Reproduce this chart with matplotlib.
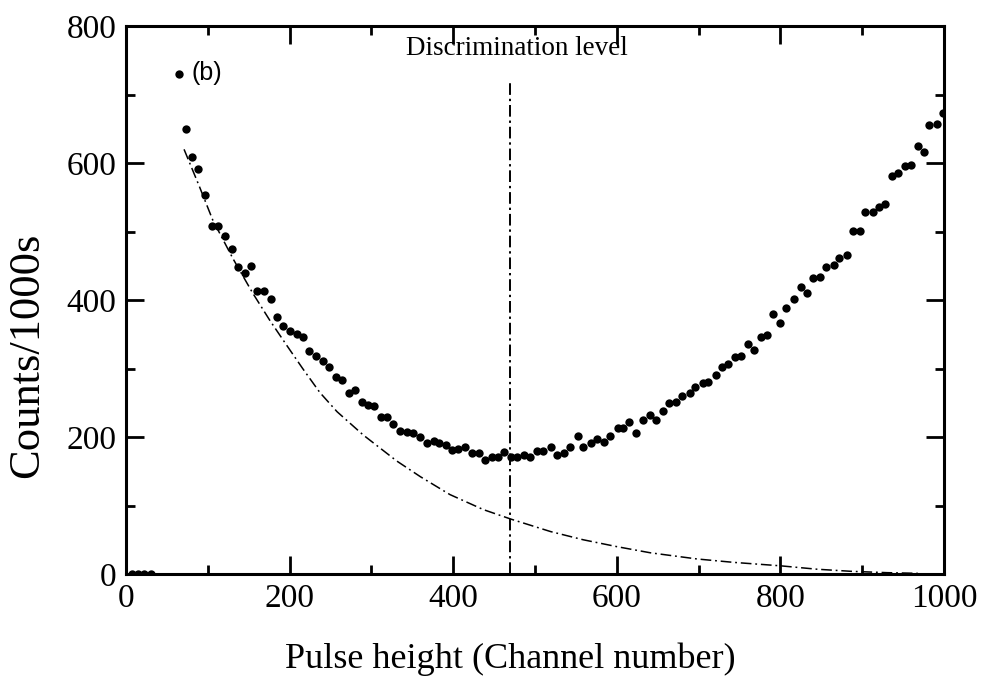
import matplotlib
matplotlib.use("Agg")
import matplotlib.pyplot as plt
from matplotlib.ticker import MultipleLocator

# ---------------------------------------------------------------------------
# Data
# ---------------------------------------------------------------------------

channel = [
    7, 15, 22, 30,
    65, 73, 81, 88, 97, 105, 113, 121, 130, 137, 146, 153, 160, 169, 177, 185,
    192, 201, 209, 217, 224, 232, 241, 248, 257, 264, 273, 280, 289, 296, 303,
    312, 319, 327, 335, 344, 351, 360, 368, 376, 383, 391, 399, 406, 415, 423,
    431, 439, 448, 455, 462, 471, 478, 486, 494, 503, 510, 520, 527, 535, 543,
    552, 559, 568, 576, 584, 592, 601, 608, 615, 624, 632, 640, 648, 657, 664,
    672, 680, 689, 696, 705, 712, 721, 729, 736, 744, 752, 760, 768, 776, 784,
    791, 800, 807, 816, 825, 833, 840, 848, 856, 865, 872, 881, 889, 897, 904,
    913, 920, 928, 937, 944, 952, 960, 968, 975, 982, 991, 999,
]
counts = [
    0, 0, 0, 0,
    730, 650, 609, 591, 553, 508, 508, 493, 474, 448, 439, 450, 413, 413, 401, 375,
    362, 355, 350, 346, 326, 318, 311, 302, 288, 283, 264, 269, 251, 247, 245,
    229, 229, 219, 209, 207, 206, 200, 191, 194, 191, 188, 181, 182, 185, 177,
    177, 166, 171, 171, 178, 171, 171, 174, 171, 180, 180, 185, 174, 177, 185,
    201, 185, 191, 197, 193, 201, 213, 213, 222, 206, 225, 232, 225, 238, 250,
    251, 260, 264, 273, 279, 280, 291, 302, 307, 317, 318, 336, 327, 346, 349,
    380, 366, 388, 401, 419, 410, 432, 434, 448, 451, 461, 466, 501, 501, 528,
    528, 536, 540, 581, 585, 596, 597, 625, 616, 655, 657, 673,
]

# background fit (dash-dot curve)
fit_x = [71, 90, 106, 131, 155, 176, 197, 216, 237, 258, 290, 331, 360, 396,
         437, 471, 519, 559, 600, 641, 698, 743, 800, 845, 886, 930, 968]
fit_y = [620, 565, 517, 460, 410, 370, 333, 300, 265, 237, 203, 165, 142, 116,
         94, 80, 62, 50, 40, 31, 22, 17, 12, 7, 4, 2, 1]

disc_level = 470

X_TICKS = [0, 200, 400, 600, 800, 1000]
Y_TICKS = [0, 200, 400, 600, 800]

# ---------------------------------------------------------------------------
# Plot
# ---------------------------------------------------------------------------

plt.rcParams["font.family"] = ["Liberation Serif", "DejaVu Serif"]

fig = plt.figure(figsize=(9.88, 6.85), dpi=100)
ax = fig.add_axes([0.1275, 0.162, 0.828, 0.800])

ax.plot(fit_x, fit_y, color="black", linewidth=1.1,
        linestyle=(0, (7, 2.5, 1.2, 2.5)))
ax.plot([disc_level, disc_level], [0, 717], color="black", linewidth=1.4,
        linestyle=(0, (6, 2, 1.2, 2)))
ax.scatter(channel, counts, s=36, color="black", zorder=3, linewidths=0)

ax.text(disc_level + 8, 767, "Discrimination level", ha="center", va="center",
        fontsize=19.5)
ax.text(80, 731, "(b)", ha="left", va="center", fontsize=18,
        family=["Liberation Sans", "DejaVu Sans"])

ax.set_xlim(0, 1000)
ax.set_ylim(0, 800)
ax.set_xticks(X_TICKS)
ax.set_yticks(Y_TICKS)
ax.xaxis.set_minor_locator(MultipleLocator(100))
ax.yaxis.set_minor_locator(MultipleLocator(100))

ax.tick_params(which="both", direction="in", top=True, right=True,
               labelsize=24, width=2, pad=7)
ax.tick_params(which="major", length=13)
ax.tick_params(which="minor", length=6.5)
for spine in ax.spines.values():
    spine.set_linewidth(2.2)

ax.set_xlabel("Pulse height (Channel number)", fontsize=26)
ax.xaxis.set_label_coords(0.47, -0.125)
ax.set_ylabel("Counts/1000s", fontsize=32)
ax.yaxis.set_label_coords(-0.096, 0.40)

plt.savefig("out.png", dpi=100)
plt.close(fig)
